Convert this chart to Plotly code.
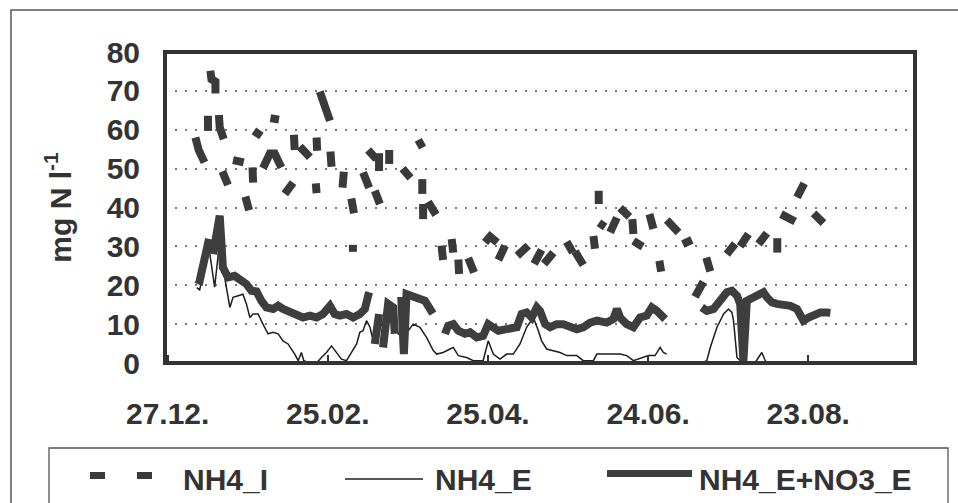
import pandas as pd
import plotly.graph_objects as go

# Day offsets from 27.12.1999; None separates pieces of a series.
START = pd.Timestamp("1999-12-27")

# NH4_I (influent ammonium), drawn as short dashes
nh4_i_day = [
    10.4, 11.6, 13.8, None, 15.1, 15.1, None, 16.0, 16.4, 17.9, 17.9, None,
    19.2, 19.5, 21.0, None, 20.5, 22.6, None, 24.5, 28.5, None, 29.1, 30.5, None,
    31.8, 32.0, None, 32.3, 35.1, None, 35.7, 38.3, 40.1, 42.6, None, 38.5, 41.7, None,
    43.9, 47.0, None, 47.3, 47.6, None, 49.5, 53.3, None, 55.5, 55.8, None,
    55.8, 56.0, None, 57.0, 58.5, 60.8, None, 61.0, 61.4, None, 65.5, 66.0, None,
    68.8, 69.8, None, 69.4, 69.4, None, 73.2, 75.5, None, 75.1, 77.6, 79.2, 79.2, None,
    77.6, 79.5, None, 83.0, 83.0, None, 88.0, 91.0, None, 93.9, 95.5, None,
    95.4, 95.4, None, 95.7, 95.7, None, 97.6, 100.5, None, 102.6, 103.2, None,
    106.4, 107.0, None, 108.9, 109.2, None, 112.6, 114.8, None, 118.9, 120.8, 123.5, None,
    123.9, 126.4, None, 131.0, 135.1, None, 137.3, 140.1, None, 141.0, 144.5, None,
    149.5, 151.8, None, 152.6, 155.7, None, 159.5, 160.1, None, 161.5, 161.5, None,
    161.6, 163.9, None, 165.8, 168.3, None, 169.5, 173.0, None, 174.1, 174.5, None,
    174.5, 178.0, None, 180.5, 182.0, None, 184.2, 184.9, None, 187.0, 191.4, None,
    193.0, 196.4, None, 197.6, 200.7, None, 201.8, 203.3, None, 209.5, 212.6, None,
    214.5, 217.6, None, 221.4, 224.5, None, 228.4, 228.4, None, 229.8, 233.3, 235.1, None,
    235.8, 238.5, None, 242.0, 245.7,
]
nh4_i_val = [
    58.0, 54.8, 51.6, None, 63.6, 59.7, None, 75.2, 73.0, 72.4, 69.3, None,
    63.8, 60.6, 57.6, None, 49.3, 45.8, None, 52.2, 51.6, None, 42.8, 39.3, None,
    50.3, 46.4, None, 59.7, 58.4, None, 50.1, 53.9, 53.9, 50.3, None, 63.0, 62.6, None,
    43.5, 46.4, None, 58.7, 54.8, None, 55.7, 52.9, None, 46.2, 43.7, None,
    58.0, 54.6, None, 69.8, 66.1, 62.3, None, 54.4, 50.5, None, 45.1, 49.2, None,
    42.3, 38.5, None, 30.4, 28.6, None, 49.0, 45.1, None, 54.8, 52.9, 52.9, 49.4, None,
    44.3, 40.9, None, 54.8, 51.2, None, 50.0, 47.6, None, 57.4, 55.4, None,
    47.3, 43.5, None, 40.9, 37.0, None, 41.5, 38.1, None, 30.2, 26.5, None,
    31.9, 28.4, None, 26.6, 22.9, None, 27.0, 23.3, None, 31.0, 32.5, 31.0, None,
    26.5, 30.2, None, 27.6, 30.2, None, 25.5, 29.1, None, 25.5, 28.4, None,
    31.2, 28.4, None, 28.7, 25.2, None, 32.7, 29.4, None, 44.3, 40.9, None,
    36.1, 35.0, None, 33.6, 37.4, None, 39.9, 37.6, None, 37.0, 33.2, None,
    31.4, 29.9, None, 38.3, 34.5, None, 26.3, 23.5, None, 36.8, 33.6, None,
    30.6, 31.7, None, 17.0, 20.9, None, 27.1, 23.6, None, 28.0, 30.7, None,
    30.0, 33.2, None, 30.6, 33.4, None, 32.1, 28.4, None, 38.3, 37.4, 36.4, None,
    42.6, 46.2, None, 38.5, 36.0,
]

# NH4_E (effluent ammonium)
nh4_e_day = [
    10.9, 12.0, 13.8, 15.5, 17.6, 18.8, 19.5, 20.7, 23.3, 24.5, 26.4, 28.2, 29.5,
    30.8, 32.0, 33.9, 35.7, 37.6, 39.5, 41.4, 43.2, 45.1, 47.6, 48.9, 50.1, 51.0,
    53.3, 55.8, 57.6, 59.5, 61.4, 63.3, 65.1, 67.0, 68.9, 70.8, 72.0, 73.2, 74.5,
    75.8, 77.0, 79.5, 82.0, 84.5, 86.4, 88.2, 92.0, 94.5, 97.0, 98.3, 99.5, 100.8,
    103.2, 105.8, 107.0, 108.9, 112.0, 114.5, 118.2, 120.1, 122.0, 124.5, 127.0,
    129.5, 132.0, 134.5, 137.0, 138.9, 140.1, 142.0, 144.5, 147.0, 149.5, 153.3,
    155.7, 159.5, 160.8, 164.5, 167.0, 169.5, 172.0, 174.5, 180.1, 182.6, 184.5,
    185.7, 187.0, None,
    200.0, 202.0, 203.3, 205.8, 208.3, 210.1, 211.4, 212.0, 213.3, 214.5, 220.0,
    222.6, 223.9, 224.5,
]
nh4_e_val = [
    19.4, 18.8, 25.0, 29.5, 19.5, 27.0, 34.0, 24.6, 14.3, 16.9, 17.3, 17.7, 15.2,
    11.7, 12.6, 12.6, 10.0, 7.5, 7.9, 7.5, 5.7, 4.9, 2.3, 0.6, 2.7, 0.6,
    0.0, 0.0, 1.4, 2.7, 4.4, 2.7, 1.0, 0.6, 2.7, 4.9, 7.9, 8.3, 10.9,
    9.2, 5.7, 9.2, 11.7, 10.9, 7.5, 6.6, 10.0, 9.2, 6.6, 4.9, 3.2, 2.3,
    2.7, 3.6, 4.0, 1.9, 1.4, 0.6, 0.6, 5.7, 2.3, 1.0, 2.3,
    2.3, 4.9, 9.2, 11.7, 8.3, 5.7, 3.6, 3.2, 2.7, 1.9, 1.9,
    0.6, 0.6, 2.3, 2.3, 2.3, 2.3, 1.9, 0.6, 1.9, 1.9, 4.0,
    2.7, 2.3, None,
    0.0, 0.6, 4.0, 9.2, 12.6, 13.9, 13.0, 10.9, 1.4, 0.6, 0.0,
    2.7, 0.6, 0.0,
]

# NH4_E + NO3_E (effluent ammonium plus nitrate)
sum_e_day = [
    10.7, 12.0, 15.5, None,
    17.0, 18.5, 19.5, 20.7, 22.6, 25.1, 27.6, 29.5, 31.4, 33.3, 35.1, 37.0, 39.5,
    41.4, 43.2, 45.8, 48.3, 50.7, 53.3, 55.8, 58.2, 60.8, 62.6, 64.5, 67.0, 69.5,
    72.0, 73.9, 75.1, 75.5, None,
    77.6, 79.2, None,
    80.7, 82.6, 84.5, 85.1, None,
    87.5, 88.5, 89.5, 92.0, 96.4, 99.4, None,
    103.9, 105.1, 107.0, 108.9, 111.4, 113.3, 115.8, 118.2, 120.1, 121.4, 123.9,
    127.0, 130.8, 132.6, 134.5, 136.4, 138.3, 139.5, 141.4, 143.3, 145.8, 148.2,
    150.8, 153.3, 155.7, 158.3, 160.8, 164.5, 167.0, 168.3, 169.5, 172.0, 174.5,
    177.0, 179.5, 181.4, 183.3, 185.1, 186.4, None,
    200.1, 202.0, 204.5, 207.0, 209.5, 211.4, 213.3, 214.5, 215.7, 217.0, 219.5,
    222.0, 223.2, 224.5, 226.4, 228.3, 230.7, 233.3, 235.8, 237.0, 238.2, 240.1,
    242.0, 244.5, 247.0, 248.3,
]
sum_e_val = [
    21.6, 21.2, 31.9, None,
    28.0, 35.0, 37.9, 24.6, 22.0, 22.4, 21.2, 20.3, 18.6, 18.4, 16.0, 14.3, 13.9,
    14.7, 13.9, 13.0, 12.6, 11.7, 12.2, 11.7, 12.6, 14.7, 12.6, 12.2, 12.6, 11.7,
    12.6, 13.9, 17.3, 18.2, None,
    4.9, 12.6, None,
    4.0, 15.2, 14.3, 7.5, None,
    17.0, 2.3, 17.7, 16.9, 16.0, 12.7, None,
    7.5, 9.6, 10.0, 8.3, 7.5, 7.9, 6.6, 7.0, 10.0, 9.2, 8.3,
    8.7, 9.2, 12.6, 13.0, 11.7, 14.3, 13.4, 10.0, 9.2, 10.0, 10.0,
    9.2, 8.7, 9.2, 10.4, 10.9, 10.4, 11.3, 13.9, 11.7, 10.0, 9.2,
    11.7, 12.2, 14.3, 13.4, 11.7, 11.3, None,
    14.3, 13.4, 13.9, 16.5, 18.2, 18.6, 17.3, 15.2, 0.6, 16.0, 16.9,
    17.3, 18.2, 16.9, 15.6, 15.2, 15.2, 14.7, 13.9, 11.7, 10.9, 11.7,
    12.2, 13.0, 13.0, 12.9,
]

legend_names = ["NH4_I", "NH4_E", "NH4_E+NO3_E"]
y_title = "mg N l<sup>-1</sup>"


def to_dates(days):
    return [START + pd.Timedelta(days=d) if d is not None else None for d in days]


INK = "#333333"
FONT = "Liberation Sans, Arial, sans-serif"
C_I, C_E, C_SUM = "#3a3a3a", "#1e1e1e", "#3e3e3e"
W_I, W_E, W_SUM = 8, 1.5, 8

fig = go.Figure()
fig.add_trace(go.Scatter(
    x=to_dates(nh4_i_day), y=nh4_i_val, mode="lines", name=legend_names[0],
    line=dict(color=C_I, width=W_I), connectgaps=False, showlegend=False,
))
fig.add_trace(go.Scatter(
    x=to_dates(nh4_e_day), y=nh4_e_val, mode="lines", name=legend_names[1],
    line=dict(color=C_E, width=W_E), connectgaps=False, showlegend=False,
))
fig.add_trace(go.Scatter(
    x=to_dates(sum_e_day), y=sum_e_val, mode="lines", name=legend_names[2],
    line=dict(color=C_SUM, width=W_SUM), connectgaps=False, showlegend=False,
))

W, H = 958, 503
L, R, T, B = 165, 43, 52, 140
pw, ph = W - L - R, H - T - B


def px_x(px):
    return (px - L) / pw


def px_y(py):
    return (H - B - py) / ph


shapes = [
    # outer chart border
    dict(type="rect", xref="paper", yref="paper", x0=px_x(11), x1=px_x(970),
         y0=px_y(520), y1=px_y(10), line=dict(color="#555", width=1.5), layer="below"),
    # legend box
    dict(type="rect", xref="paper", yref="paper", x0=px_x(49), x1=px_x(948),
         y0=px_y(520), y1=px_y(448), line=dict(color="#555", width=1.3), layer="below"),
    # plot area frame
    dict(type="rect", xref="paper", yref="paper", x0=0, x1=1, y0=0, y1=1,
         line=dict(color=INK, width=4), layer="above"),
    # legend keys
    dict(type="line", xref="paper", yref="paper", x0=px_x(90), x1=px_x(105),
         y0=px_y(475.5), y1=px_y(475.5), line=dict(color=C_I, width=7)),
    dict(type="line", xref="paper", yref="paper", x0=px_x(137), x1=px_x(152),
         y0=px_y(475.5), y1=px_y(475.5), line=dict(color=C_I, width=7)),
    dict(type="line", xref="paper", yref="paper", x0=px_x(345), x1=px_x(423),
         y0=px_y(479), y1=px_y(479), line=dict(color=C_E, width=1.5)),
    dict(type="line", xref="paper", yref="paper", x0=px_x(607), x1=px_x(692),
         y0=px_y(473.5), y1=px_y(473.5), line=dict(color=C_SUM, width=7)),
]

annotations = [
    dict(text=name, xref="paper", yref="paper", x=px_x(xl), y=px_y(479.5),
         xanchor="left", yanchor="middle", showarrow=False,
         font=dict(family=FONT, size=30, color=INK, weight="bold"))
    for name, xl in zip(legend_names, [181, 433, 697])
]

fig.update_layout(
    width=W, height=H,
    margin=dict(l=L, r=R, t=T, b=B, autoexpand=False),
    paper_bgcolor="white", plot_bgcolor="white",
    font=dict(family=FONT, size=30, color=INK, weight="bold"),
    showlegend=False,
    shapes=shapes,
    annotations=annotations,
)
fig.update_xaxes(
    type="date",
    range=["1999-12-26", "2000-10-02"],
    tick0="1999-12-27", dtick=60 * 86400000, tickformat="%d.%m.",
    ticks="inside", ticklen=8, tickwidth=1.5, tickcolor=INK,
    showgrid=False, showline=False, zeroline=False,
    tickfont=dict(family=FONT, size=30, color=INK, weight="bold"),
    ticklabelstandoff=30,
)
fig.update_yaxes(
    range=[0, 80], tick0=0, dtick=10,
    ticks="", showline=False, zeroline=False,
    showgrid=True, gridcolor="#777", gridwidth=2, griddash="2px,8px",
    tickfont=dict(family=FONT, size=30, color=INK, weight="bold"),
    ticklabelstandoff=24,
    title=dict(text=y_title, standoff=26,
               font=dict(family=FONT, size=30, color=INK, weight="bold")),
)

fig.write_html("out.html")
